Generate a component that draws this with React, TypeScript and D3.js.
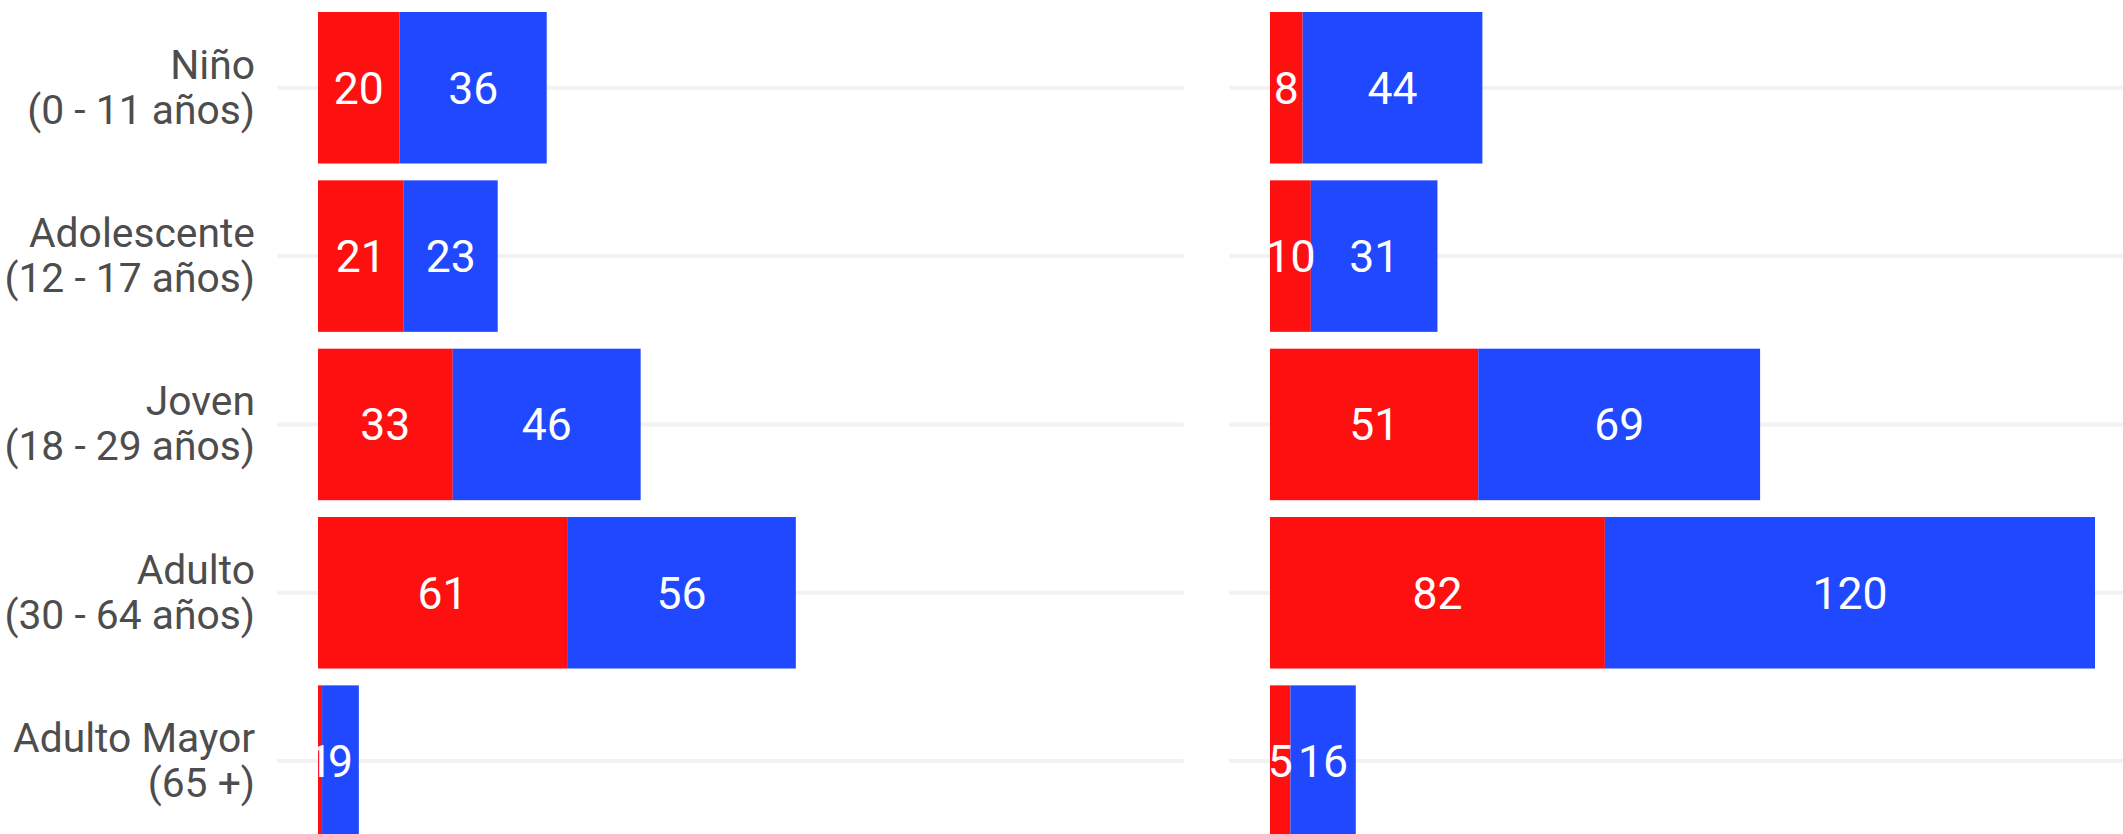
import React from "react";
import * as d3 from "d3";

const categories = [
  "Niño\n(0 - 11 años)",
  "Adolescente\n(12 - 17 años)",
  "Joven\n(18 - 29 años)",
  "Adulto\n(30 - 64 años)",
  "Adulto Mayor\n(65 +)",
];

const leftRed = [20, 21, 33, 61, 1];
const leftBlue = [36, 23, 46, 56, 9];
const rightRed = [8, 10, 51, 82, 5];
const rightBlue = [44, 31, 69, 120, 16];

const RED = "#ff1010";
const BLUE = "#2049ff";
const GRID = "#f2f2f2";
const LABEL = "#4d4d4d";
const FONT = "Roboto, 'Noto Sans', sans-serif";

const W = 2123;
const H = 834;

export default function App() {
  const panels = [
    { id: "p1", x0: 318, red: leftRed, blue: leftBlue, showLabels: true },
    { id: "p2", x0: 1270, red: rightRed, blue: rightBlue, showLabels: false },
  ];

  const maxTotal = d3.max(
    panels.flatMap((p) => p.red.map((r, i) => r + p.blue[i]))
  ) as number;

  const x = d3.scaleLinear().domain([0, maxTotal]).range([0, 825]);
  const y = d3
    .scaleBand<string>()
    .domain(categories)
    .range([-4.83, 853.7])
    .paddingInner(0.1)
    .paddingOuter(0.1);

  const gridExt = 40.7;

  return (
    <svg
      width={W}
      height={H}
      style={{ position: "fixed", left: 0, top: 0, background: "#fff" }}
      fontFamily={FONT}
    >
      <defs>
        {panels.map((p) => (
          <clipPath id={`clip-${p.id}`} key={p.id}>
            <rect x={p.x0} y={0} width={x(maxTotal) + gridExt} height={H} />
          </clipPath>
        ))}
      </defs>
      {panels.map((p) => (
        <g key={p.id}>
          {categories.map((c) => {
            const cy = (y(c) as number) + y.bandwidth() / 2;
            return (
              <line
                key={"g" + c}
                x1={p.x0 - gridExt}
                x2={p.x0 + x(maxTotal) + gridExt}
                y1={cy}
                y2={cy}
                stroke={GRID}
                strokeWidth={4}
              />
            );
          })}
          {categories.map((c, i) => {
            const top = y(c) as number;
            const bw = y.bandwidth();
            const r = p.red[i];
            const b = p.blue[i];
            return (
              <g key={"b" + c}>
                <rect x={p.x0 + x(0)} y={top} width={x(r) - x(0)} height={bw} fill={RED} />
                <rect x={p.x0 + x(r)} y={top} width={x(r + b) - x(r)} height={bw} fill={BLUE} />
              </g>
            );
          })}
          <g clipPath={`url(#clip-${p.id})`}>
            {categories.map((c, i) => {
              const cy = (y(c) as number) + y.bandwidth() / 2;
              const r = p.red[i];
              const b = p.blue[i];
              return (
                <g key={"t" + c} fill="#fff" fontSize={44.5} textAnchor="middle">
                  <text x={p.x0 + x(r / 2)} y={cy + 15.8}>{r}</text>
                  <text x={p.x0 + x(r + b / 2)} y={cy + 15.8}>{b}</text>
                </g>
              );
            })}
          </g>
          {p.showLabels &&
            categories.map((c) => {
              const cy = (y(c) as number) + y.bandwidth() / 2;
              const lines = c.split("\n");
              return (
                <text
                  key={"l" + c}
                  x={255}
                  textAnchor="end"
                  fill={LABEL}
                  fontSize={40.8}
                >
                  <tspan x={255} y={cy - 9}>{lines[0]}</tspan>
                  <tspan x={255} y={cy + 36}>{lines[1]}</tspan>
                </text>
              );
            })}
        </g>
      ))}
    </svg>
  );
}
